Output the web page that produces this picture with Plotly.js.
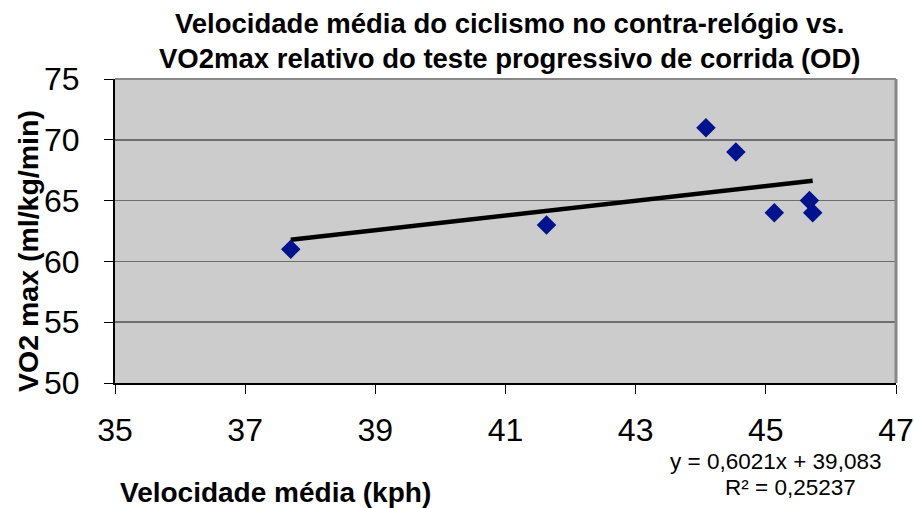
<!DOCTYPE html>
<html><head><meta charset="utf-8">
<script src="https://cdn.plot.ly/plotly-3.0.1.min.js"></script>
<style>body{margin:0;background:#fff}#chart{width:914px;height:508px}</style>
</head><body><div id="chart"></div>
<script>
const speed = [37.70, 41.63, 44.08, 44.54, 45.13, 45.67, 45.72];
const vo2 = [61, 63, 71, 69, 64, 65, 64];
const xTicks = [35, 37, 39, 41, 43, 45, 47];
const yTicks = [50, 55, 60, 65, 70, 75];
const titleLines = ["Velocidade média do ciclismo no contra-relógio vs.", "VO2max relativo do teste progressivo de corrida (OD)"];
const xTitle = "Velocidade média (kph)";
const yTitle = "VO2 max (ml/kg/min)";
const eqText = "y = 0,6021x + 39,083";
const r2Text = "R² = 0,25237";

// least squares trendline from data
const n = speed.length;
const mx = speed.reduce((a,b)=>a+b,0)/n, my = vo2.reduce((a,b)=>a+b,0)/n;
let sxy=0, sxx=0;
for (let i=0;i<n;i++){sxy+=(speed[i]-mx)*(vo2[i]-my);sxx+=(speed[i]-mx)**2;}
const slope = sxy/sxx, icpt = my - slope*mx;
const xmin = Math.min(...speed), xmax = Math.max(...speed);
const trendX = [xmin, xmax], trendY = trendX.map(x=>icpt+slope*x);

const F = "Liberation Sans, Arial, sans-serif";
const data = [
  {x: trendX, y: trendY, mode:'lines', line:{color:'#000', width:4.5}, hoverinfo:'skip'},
  {x: speed, y: vo2, mode:'markers', marker:{symbol:'diamond', size:15, color:'#00138F'}}
];
const layout = {
  width:914, height:508, showlegend:false,
  margin:{l:115, r:18, t:79, b:125},
  paper_bgcolor:'#fff', plot_bgcolor:'#CCCCCC',
  font:{family:F, color:'#000'},
  xaxis:{range:[35,47], tickvals:xTicks, ticktext:xTicks.map(String), showgrid:false, zeroline:false,
    showline:true, linecolor:'#000', linewidth:2, ticks:'outside', ticklen:9, tickwidth:1, tickcolor:'#000',
    tickfont:{size:32, family:F}, ticklabelstandoff:9},
  yaxis:{range:[50,75], tickvals:yTicks, ticktext:yTicks.map(String), showgrid:true, gridcolor:'#6e6e6e', gridwidth:1.5,
    zeroline:false, showline:true, linecolor:'#000', linewidth:2, ticks:'outside', ticklen:9, tickwidth:1, tickcolor:'#000',
    tickfont:{size:32, family:F}, ticklabelstandoff:18},
  shapes:[
    {type:'line', xref:'paper', yref:'paper', x0:0, x1:1, y0:1, y1:1, line:{color:'#888', width:2}},
    {type:'line', xref:'paper', yref:'paper', x0:1, x1:1, y0:0, y1:1, line:{color:'#888', width:3}}
  ],
  annotations:[
    {text:'<b>'+titleLines[0]+'</b>', xref:'paper', yref:'paper', x:0.5045, y:1, xanchor:'center', yanchor:'middle', yshift:79-23, showarrow:false, font:{size:27.5, family:F}},
    {text:'<b>'+titleLines[1]+'</b>', xref:'paper', yref:'paper', x:0.5045, y:1, xanchor:'center', yanchor:'middle', yshift:79-58, showarrow:false, font:{size:27.5, family:F}},
    {text:'<b>'+yTitle+'</b>', xref:'paper', yref:'paper', x:0, y:0.5, xanchor:'center', yanchor:'middle', xshift:28-115, yshift:231-251, textangle:-90, showarrow:false, font:{size:28.5, family:F}},
    {text:'<b>'+xTitle+'</b>', xref:'paper', yref:'paper', x:0, y:0, xanchor:'center', yanchor:'middle', xshift:275-115, yshift:383-492, showarrow:false, font:{size:28, family:F}},
    {text:eqText, xref:'paper', yref:'paper', x:0, y:0, xanchor:'center', yanchor:'middle', xshift:775-115, yshift:383-461, showarrow:false, font:{size:22.5, family:F}},
    {text:r2Text, xref:'paper', yref:'paper', x:0, y:0, xanchor:'center', yanchor:'middle', xshift:790-115, yshift:383-487, showarrow:false, font:{size:22.5, family:F}}
  ]
};
Plotly.newPlot('chart', data, layout, {displayModeBar:false, staticPlot:true});
</script></body></html>
